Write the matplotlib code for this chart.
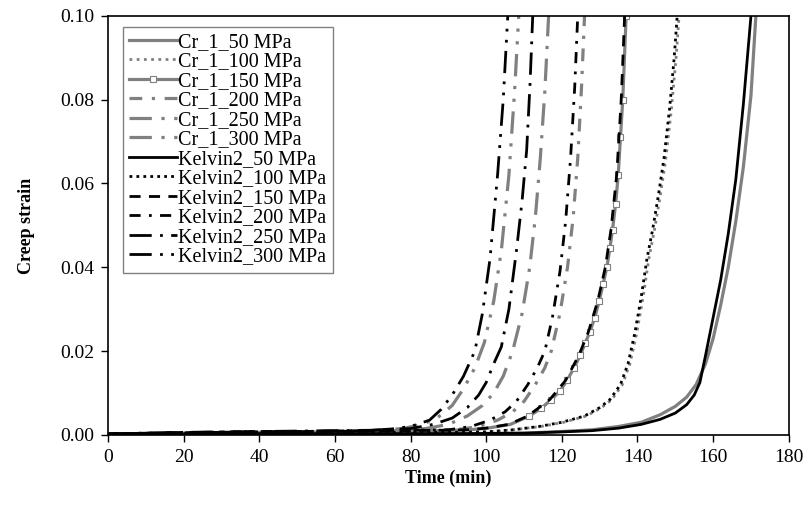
import matplotlib.pyplot as plt

plt.rcParams['font.family'] = ['Liberation Serif', 'DejaVu Serif']

# early part shared by the time axis of every curve (min)
t_base = [0, 10, 20, 30, 40, 50, 60, 70]

# Cr_1 model (grey)
t_cr50 = t_base + [80, 95, 110, 120, 128, 135, 141, 146, 150, 153, 155.5, 158, 160, 162, 164, 166, 168, 170, 171.3]
s_cr50 = [0.0001, 0.0002, 0.0002, 0.0003, 0.0003, 0.0003, 0.0003, 0.0003,
          0.0003, 0.0003, 0.0004, 0.0008, 0.0012, 0.002, 0.003, 0.0048, 0.0068, 0.009, 0.012,
          0.017, 0.023, 0.031, 0.040, 0.051, 0.064, 0.081, 0.100]
t_cr100 = t_base + [80, 90, 100, 107, 114.5, 120.5, 126.5, 130.5, 133.2, 136, 138, 139.8, 141.5, 143, 144.5, 146, 147.5, 149, 150.2, 151]
s_cr100 = [0.0001, 0.0002, 0.0003, 0.0003, 0.0004, 0.0004, 0.0005, 0.0005,
           0.0005, 0.0006, 0.0007, 0.0012, 0.002, 0.003, 0.0045, 0.0065, 0.0084, 0.012, 0.017,
           0.0243, 0.033, 0.042, 0.049, 0.057, 0.066, 0.078, 0.090, 0.100]
t_cr150 = t_base + [80, 95.4, 100.4, 106.4, 111.4, 114.5, 117.2, 119.5, 121.4, 123.2, 124.9, 126.2, 127.4,
                    128.7, 129.9, 130.9, 131.9, 132.7, 133.4, 134.2, 134.9, 135.5, 136.1, 137.0]
s_cr150 = [0.0001, 0.0002, 0.0003, 0.0004, 0.0004, 0.0005, 0.0005, 0.0006,
           0.0008, 0.0012, 0.0016, 0.0025, 0.0045, 0.0063, 0.0084, 0.0105, 0.013, 0.016, 0.019, 0.022,
           0.0245, 0.028, 0.032, 0.036, 0.040, 0.0445, 0.049, 0.055, 0.062, 0.071, 0.080, 0.100]
t_cr200 = t_base + [80, 92, 98, 103, 107, 110, 113, 115.5, 117.2, 119.5, 121.5, 123, 124.2, 125.2, 126.0]
s_cr200 = [0.0001, 0.0002, 0.0003, 0.0004, 0.0005, 0.0005, 0.0006, 0.0007,
           0.0009, 0.0012, 0.002, 0.0035, 0.0055, 0.008, 0.012, 0.016, 0.020, 0.029, 0.040,
           0.052, 0.066, 0.083, 0.100]
t_cr250 = t_base + [78, 84, 90, 95, 99, 102, 104.5, 107, 109.5, 111.5, 113, 114.3, 115.5, 116.5]
s_cr250 = [0.0001, 0.0002, 0.0004, 0.0005, 0.0006, 0.0006, 0.0007, 0.0008,
           0.001, 0.0015, 0.0025, 0.0045, 0.007, 0.010, 0.014, 0.020, 0.029, 0.040, 0.052,
           0.066, 0.082, 0.100]
t_cr300 = t_base + [78, 83, 87, 91, 94, 97, 99.5, 102, 104, 106, 107.5, 108.6]
s_cr300 = [0.0001, 0.0003, 0.0004, 0.0005, 0.0006, 0.0007, 0.0008, 0.001,
           0.0015, 0.0025, 0.004, 0.007, 0.011, 0.016, 0.022, 0.032, 0.044, 0.062, 0.082, 0.100]

# Kelvin2 model (black)
t_kv50 = t_base + [80, 95, 110, 120, 128, 135, 141, 146, 150, 153, 155, 156.5, 158, 160, 162, 164, 166, 168, 170]
s_kv50 = [0.0001, 0.0002, 0.0002, 0.0003, 0.0003, 0.0003, 0.0003, 0.0003,
          0.0003, 0.0003, 0.0004, 0.0007, 0.001, 0.0016, 0.0025, 0.0037, 0.0052, 0.0072, 0.0095,
          0.0125, 0.019, 0.028, 0.037, 0.048, 0.061, 0.079, 0.100]
t_kv100 = t_base + [80, 90, 100, 107, 114, 120, 126, 130, 132.7, 135.5, 137.5, 139.3, 141, 142.5, 144, 145.5, 147, 148.5, 149.7, 150.5]
s_kv100 = [0.0002, 0.0003, 0.0004, 0.0004, 0.0005, 0.0005, 0.0006, 0.0006,
           0.0006, 0.0006, 0.0007, 0.0012, 0.002, 0.003, 0.0045, 0.0065, 0.0084, 0.012, 0.017,
           0.0243, 0.033, 0.042, 0.049, 0.057, 0.066, 0.078, 0.090, 0.100]
t_kv150 = t_base + [80, 95, 100, 106, 111, 116.8, 121, 124.5, 127, 129.5, 131.5, 133, 134.5, 135.7, 136.6]
s_kv150 = [0.0002, 0.0004, 0.0005, 0.0006, 0.0007, 0.0008, 0.0008, 0.0009,
           0.001, 0.0012, 0.0016, 0.0025, 0.0045, 0.0084, 0.013, 0.019, 0.0245, 0.032, 0.040,
           0.049, 0.062, 0.080, 0.100]
t_kv200 = t_base + [80, 90, 96, 101, 105, 108, 111, 113.5, 115.5, 117.5, 119.5, 121, 122.3, 123.4, 124.2]
s_kv200 = [0.0002, 0.0004, 0.0005, 0.0007, 0.0008, 0.0008, 0.0009, 0.001,
           0.0011, 0.0012, 0.002, 0.0035, 0.0055, 0.008, 0.012, 0.016, 0.020, 0.028, 0.039,
           0.051, 0.066, 0.083, 0.100]
t_kv250 = t_base + [80, 86, 91, 95, 98, 100, 102, 104, 106, 108, 109.5, 110.7, 111.6, 112.3]
s_kv250 = [0.0002, 0.0004, 0.0006, 0.0007, 0.0008, 0.0009, 0.001, 0.0011,
           0.0015, 0.0025, 0.004, 0.0065, 0.0095, 0.0125, 0.017, 0.021, 0.030, 0.044, 0.056,
           0.068, 0.084, 0.100]
t_kv300 = t_base + [75, 80, 85, 88, 91, 94, 97, 99, 101, 103, 104.5, 105.7]
s_kv300 = [0.0002, 0.0004, 0.0005, 0.0006, 0.0007, 0.0008, 0.0009, 0.0011,
           0.0014, 0.002, 0.0035, 0.006, 0.0095, 0.014, 0.020, 0.029, 0.042, 0.062, 0.080, 0.100]

grey = "#808080"
fig, ax = plt.subplots(figsize=(8.09, 5.14), dpi=100)
fig.subplots_adjust(left=0.1335, right=0.975, top=0.969, bottom=0.154)

ax.plot(t_cr50, s_cr50, color=grey, lw=2.3, label="Cr_1_50 MPa")
ax.plot(t_cr100, s_cr100, color=grey, lw=2.0, ls=(0, (1, 1.6)), label="Cr_1_100 MPa")
ax.plot(t_cr150, s_cr150, color=grey, lw=2.3, marker="s", ms=4.5, mfc="white", mec=grey,
        mew=0.8, markevery=list(range(12, 32)), label="Cr_1_150 MPa")
ax.plot(t_cr200, s_cr200, color=grey, lw=2.3, ls=(0, (4, 3, 1, 3)), label="Cr_1_200 MPa")
ax.plot(t_cr250, s_cr250, color=grey, lw=2.3, ls=(0, (7, 3, 1, 3)), label="Cr_1_250 MPa")
ax.plot(t_cr300, s_cr300, color=grey, lw=2.3, ls=(0, (7, 3, 1, 3, 1, 3)), label="Cr_1_300 MPa")

ax.plot(t_kv50, s_kv50, color="black", lw=2.0, label="Kelvin2_50 MPa")
ax.plot(t_kv100, s_kv100, color="black", lw=2.0, ls=(0, (1, 1.5)), label="Kelvin2_100 MPa")
ax.plot(t_kv150, s_kv150, color="black", lw=2.0, ls=(0, (4, 3)), label="Kelvin2_150 MPa")
ax.plot(t_kv200, s_kv200, color="black", lw=2.0, ls=(0, (4, 3, 1, 3)), label="Kelvin2_200 MPa")
ax.plot(t_kv250, s_kv250, color="black", lw=2.0, ls=(0, (8, 3, 1, 3)), label="Kelvin2_250 MPa")
ax.plot(t_kv300, s_kv300, color="black", lw=2.0, ls=(0, (8, 3, 1, 3, 1, 3)), label="Kelvin2_300 MPa")

ax.set_xlim(0, 180)
ax.set_ylim(0, 0.1)
ax.set_xticks(range(0, 181, 20))
ax.set_yticks([0, 0.02, 0.04, 0.06, 0.08, 0.10])
ax.set_yticklabels(["0.00", "0.02", "0.04", "0.06", "0.08", "0.10"])
ax.tick_params(labelsize=14, length=5, width=1, direction="out", pad=5)
for sp in ax.spines.values():
    sp.set_linewidth(1.2)
ax.set_xlabel("Time (min)", fontsize=13, fontweight="bold", labelpad=3)
ax.set_ylabel("Creep strain", fontsize=13, fontweight="bold", labelpad=18)

leg = ax.legend(loc="upper left", bbox_to_anchor=(0.022, 0.974), fontsize=14.5, frameon=True,
                fancybox=False, edgecolor=grey, framealpha=1, handlelength=2.4,
                handletextpad=0.05, labelspacing=0.02, borderpad=0.3, borderaxespad=0)
leg.get_frame().set_linewidth(1.0)

plt.savefig("out.png", dpi=100)
